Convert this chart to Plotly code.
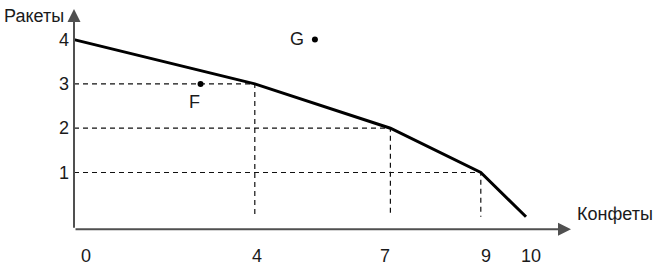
import plotly.graph_objects as go

# ---- data ----
candies = [0, 4, 7, 9, 10]          # Конфеты
rockets = [4, 3, 2, 1, 0]           # Ракеты
x_tick_labels = ["0", "4", "7", "9", "10"]
y_ticks = [1, 2, 3, 4]
y_tick_labels = ["1", "2", "3", "4"]
point_names = ["F", "G"]
point_x = [2.8, 5.33]
point_y = [3, 4]
x_title = "Конфеты"
y_title = "Ракеты"

# ---- layout geometry (pixel mapping) ----
W, H = 659, 268
PX_X, X0_PX = 45.2, 74.0     # pixels per x unit, pixel of x=0
PX_Y, Y0_PX = 44.3, 216.8    # pixels per y unit, pixel of y=0 (from top)

def dx(px):
    return (px - X0_PX) / PX_X

def dy(py):
    return (Y0_PX - py) / PX_Y

FONT = "Liberation Sans, Arial, sans-serif"
FS = 18
TXT = "#1a1a1a"
AXC = "#505050"

fig = go.Figure()

# dashed guide lines
for xv, yv in zip(candies[1:-1], rockets[1:-1]):
    fig.add_trace(go.Scatter(x=[0, xv, xv], y=[yv, yv, 0], mode="lines",
                             line=dict(color="#111", width=1.2, dash="5px,4px"),
                             hoverinfo="skip", showlegend=False))

# production possibility frontier
fig.add_trace(go.Scatter(x=candies, y=rockets, mode="lines",
                         line=dict(color="black", width=3),
                         showlegend=False))

# points F and G
fig.add_trace(go.Scatter(x=point_x, y=point_y, mode="markers",
                         marker=dict(color="black", size=6, symbol="circle"),
                         showlegend=False))

ann = []
axis_y = dy(229.3)
# axes with arrows
ann.append(dict(x=dx(571), y=axis_y, ax=0, ay=axis_y, xref="x", yref="y",
                axref="x", ayref="y", text="", showarrow=True, arrowhead=2,
                arrowsize=1.3, arrowwidth=2, arrowcolor=AXC, standoff=0, startstandoff=0))
ann.append(dict(x=0, y=dy(9), ax=0, ay=axis_y, xref="x", yref="y",
                axref="x", ayref="y", text="", showarrow=True, arrowhead=2,
                arrowsize=1.3, arrowwidth=2, arrowcolor=AXC, standoff=0, startstandoff=0))

# x tick labels
x_shifts = [12, 2, -5, 5, 5]
for xv, lab, sh in zip(candies, x_tick_labels, x_shifts):
    ann.append(dict(x=xv, y=dy(255.7), xref="x", yref="y", text=lab, showarrow=False,
                    xshift=sh, font=dict(family=FONT, size=FS, color=TXT)))

# y tick labels
for yv, lab in zip(y_ticks, y_tick_labels):
    ann.append(dict(x=0, y=yv, xref="x", yref="y", text=lab, showarrow=False,
                    xanchor="right", xshift=-3, font=dict(family=FONT, size=FS, color=TXT)))

# axis titles
ann.append(dict(x=dx(2), y=dy(16), xref="x", yref="y", text=y_title, showarrow=False,
                xanchor="left", font=dict(family=FONT, size=FS, color=TXT)))
ann.append(dict(x=dx(575), y=dy(214), xref="x", yref="y", text=x_title, showarrow=False,
                xanchor="left", font=dict(family=FONT, size=FS, color=TXT)))

# point labels
label_shift = {"F": (-6, -18), "G": (-18, 1)}
for name, xv, yv in zip(point_names, point_x, point_y):
    sx, sy = label_shift[name]
    ann.append(dict(x=xv, y=yv, xref="x", yref="y", text=name, showarrow=False,
                    xshift=sx, yshift=sy, font=dict(family=FONT, size=FS, color=TXT)))

fig.update_layout(
    width=W, height=H,
    margin=dict(l=0, r=0, t=0, b=0),
    paper_bgcolor="white", plot_bgcolor="white",
    xaxis=dict(range=[dx(0), dx(W)], visible=False, fixedrange=True),
    yaxis=dict(range=[dy(H), dy(0)], visible=False, fixedrange=True),
    annotations=ann,
    showlegend=False,
)

fig.write_html("out.html")
